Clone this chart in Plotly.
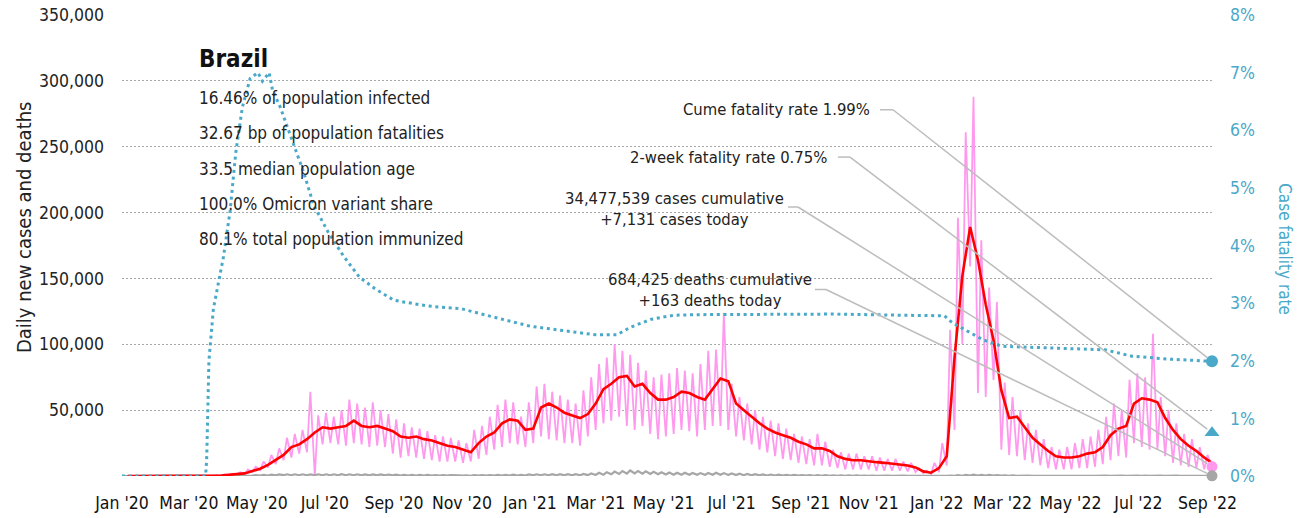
import numpy as np
import pandas as pd
import plotly.graph_objects as go

FONT = "DejaVu Sans Condensed, DejaVu Sans, sans-serif"
BLUE = "#4aa8c8"
PINK = "#ff99ee"
RED = "#ff0000"
GRAY = "#a6a6a6"
LEADER = "#bdbdbd"

# ---- weekly grid: week k starts on 2020-01-01 + 7k (140 weeks) ----
week_start = pd.date_range("2020-01-01", periods=140, freq="7D")

# 7-day average of new cases, thousands (one value per week, Monday)
cases_avg_2020 = [0, 0, 0, 0, 0, 0, 0, 0, 0, 0.003, 0.03, 0.2, 0.4, 0.9, 1.3, 2.0, 3.8,
                  5.5, 8.5, 12, 16, 22, 24, 28, 33, 37, 36, 37, 38, 42, 38, 37, 38, 36,
                  34, 30, 29, 30, 28, 27, 25, 23, 22, 20, 18, 25, 30, 33, 40, 43, 42, 35]
cases_avg_2021 = [36, 52, 55, 52, 48, 46, 44, 47, 55, 66, 70, 75, 76, 68, 70, 63, 58, 58,
                  60, 64, 63, 60, 58, 66, 74, 72, 55, 50, 45, 40, 36, 33, 31, 29, 26, 24,
                  21, 21, 19, 15, 13, 12, 12, 11, 10.5, 10, 9.5, 9, 8, 6.5, 3.5, 2.5]
cases_avg_2022 = [6, 15, 90, 152, 189, 164, 130, 103, 65, 44, 45, 37, 29, 24, 19, 15, 14,
                  14, 15, 17, 18, 22, 31, 36, 38, 55, 59, 58, 56, 44, 35, 28, 23, 19, 14, 10]

# weekly high (Thursday) and low (Monday) of daily new cases, thousands
cases_hi_2020 = [0, 0, 0, 0, 0, 0, 0, 0, 0, 0.005, 0.06, 0.3, 0.6, 1.2, 1.8, 2.8, 5, 7,
                 11, 16, 21, 29, 32, 35, 64, 46, 48, 45, 50, 58, 55, 52, 56, 50, 47, 43,
                 40, 37, 36, 34, 31, 30, 29, 27, 25, 35, 38, 45, 54, 58, 56, 45]
cases_lo_2020 = [0, 0, 0, 0, 0, 0, 0, 0, 0, 0, 0.03, 0.2, 0.3, 0.8, 1.1, 1.5, 3, 4.5,
                 6.5, 9, 12, 14, 17, 18, 0, 24, 25, 24, 23, 25, 24, 22, 23, 22, 17, 14,
                 15, 14, 13, 12, 11, 11, 11, 10, 11, 13, 16, 20, 22, 25, 24, 22]
cases_hi_2021 = [56, 68, 70, 64, 61, 58, 55, 65, 75, 85, 90, 100, 95, 92, 86, 80, 75, 77,
                 78, 82, 80, 78, 85, 95, 96, 124, 70, 60, 55, 50, 45, 42, 40, 36, 32, 30,
                 28, 32, 26, 20, 18, 17, 17, 15, 15, 14, 13, 13, 11, 10, 6, 4]
cases_lo_2021 = [25, 30, 28, 27, 25, 25, 23, 30, 35, 40, 42, 45, 38, 35, 38, 32, 28, 30,
                 32, 35, 34, 30, 35, 38, 38, 35, 30, 27, 24, 20, 18, 15, 13, 12, 10, 9,
                 8, 8, 7, 6, 5, 5, 5, 5, 4, 4, 4, 4, 3.5, 3, 2, 1.5]
cases_hi_2022 = [10, 25, 111, 196, 261, 288, 179, 143, 132, 71, 60, 50, 40, 35, 28, 22,
                 20, 22, 25, 28, 30, 35, 45, 55, 50, 73, 78, 75, 108, 60, 50, 40, 32, 28,
                 22, 16]
cases_lo_2022 = [3, 8, 35, 100, 159, 63, 60, 73, 20, 16, 15, 12, 10, 8, 6, 5, 5, 5, 6, 6,
                 7, 9, 12, 15, 14, 25, 22, 20, 20, 15, 10, 8, 7, 6, 5, 7.131]

# weekly high and low of daily deaths
deaths_hi_2020 = [0] * 10 + [5, 15, 50, 120, 200, 250, 450, 600, 800, 1000, 1150, 1300,
                             1300, 1300, 1250, 1300, 1300, 1300, 1350, 1300, 1300, 1250,
                             1200, 1150, 1100, 1000, 950, 900, 850, 800, 700, 650, 600,
                             550, 500, 700, 700, 750, 900, 950, 1000, 900]
deaths_lo_2020 = [0] * 10 + [2, 8, 25, 70, 100, 150, 250, 300, 400, 500, 600, 600, 600,
                             600, 600, 600, 600, 600, 600, 550, 550, 550, 500, 480, 450,
                             400, 400, 380, 350, 350, 300, 280, 250, 230, 200, 250, 300,
                             300, 350, 400, 400, 350]
deaths_hi_2021 = [1200, 1300, 1300, 1350, 1350, 1350, 1400, 1500, 1900, 2400, 2900, 3300,
                  3800, 4200, 3800, 3500, 3200, 2800, 2600, 2500, 2400, 2300, 2200, 2300,
                  2400, 2200, 1900, 1700, 1500, 1400, 1200, 1100, 1000, 900, 800, 700,
                  650, 650, 600, 550, 500, 450, 420, 380, 350, 300, 280, 250, 230, 200,
                  150, 120]
deaths_lo_2021 = [500, 550, 550, 550, 550, 550, 550, 650, 800, 1000, 1300, 1500, 1800,
                  1900, 1700, 1500, 1300, 1100, 1000, 1000, 900, 900, 850, 900, 900, 800,
                  700, 600, 500, 450, 400, 350, 350, 300, 250, 250, 200, 200, 180, 150,
                  130, 120, 110, 100, 90, 80, 70, 60, 60, 50, 40, 30]
deaths_hi_2022 = [150, 200, 350, 600, 800, 1000, 950, 850, 700, 550, 450, 350, 300, 250,
                  180, 150, 130, 130, 130, 140, 150, 180, 220, 250, 280, 330, 350, 350,
                  330, 300, 280, 250, 220, 180, 150, 120]
deaths_lo_2022 = [40, 50, 100, 200, 300, 400, 400, 350, 250, 200, 150, 120, 100, 80, 60,
                  50, 40, 40, 40, 40, 45, 50, 60, 70, 80, 100, 100, 100, 100, 90, 80, 70,
                  60, 50, 40, 163]

# cumulative case fatality rate, %
cfr_dates = ["2020-01-01", "2020-03-16", "2020-03-17", "2020-03-19", "2020-03-23",
             "2020-03-27", "2020-04-01", "2020-04-07", "2020-04-12", "2020-04-18",
             "2020-04-25", "2020-05-02", "2020-05-06", "2020-05-12", "2020-05-15",
             "2020-05-22", "2020-06-01", "2020-06-12", "2020-06-21", "2020-07-04",
             "2020-07-18", "2020-08-01", "2020-08-15", "2020-09-01", "2020-10-01",
             "2020-11-01", "2020-12-01", "2021-01-01", "2021-02-01", "2021-03-01",
             "2021-03-20", "2021-04-01", "2021-04-20", "2021-05-10", "2021-06-01",
             "2021-08-01", "2021-10-01", "2021-12-01", "2022-01-08", "2022-01-15",
             "2022-01-30", "2022-02-12", "2022-03-01", "2022-04-01", "2022-05-01",
             "2022-06-01", "2022-06-25", "2022-07-27", "2022-09-05"]
cfr_pct = [0, 0, 0.3, 2.0, 2.9, 3.3, 3.8, 4.6, 5.6, 6.4, 6.9, 7.0, 6.85, 7.0, 6.7, 6.4,
           5.85, 5.27, 4.7, 4.23, 3.81, 3.45, 3.25, 3.05, 2.95, 2.9, 2.75, 2.6, 2.52,
           2.45, 2.45, 2.58, 2.72, 2.79, 2.8, 2.81, 2.81, 2.79, 2.78, 2.66, 2.5, 2.36,
           2.25, 2.23, 2.21, 2.19, 2.08, 2.03, 1.99]

# latest-day figures
last_day = "2022-09-05"
cume_cfr = 1.99
two_week_cfr = 0.75
cases_today = 7131
deaths_today = 163
cases_cumulative = 34477539
deaths_cumulative = 684425

stats = ["16.46% of population infected",
         "32.67 bp of population fatalities",
         "33.5 median population age",
         "100.0% Omicron variant share",
         "80.1% total population immunized"]

# ---- assemble series ----
cases_avg = np.array(cases_avg_2020 + cases_avg_2021 + cases_avg_2022) * 1000
cases_hi = np.array(cases_hi_2020 + cases_hi_2021 + cases_hi_2022) * 1000
cases_lo = np.array(cases_lo_2020 + cases_lo_2021 + cases_lo_2022) * 1000
deaths_hi = np.array(deaths_hi_2020 + deaths_hi_2021 + deaths_hi_2022)
deaths_lo = np.array(deaths_lo_2020 + deaths_lo_2021 + deaths_lo_2022)

hi_days = week_start + pd.Timedelta(days=1)
lo_days = week_start + pd.Timedelta(days=5)
avg_days = week_start + pd.Timedelta(days=5)


def zigzag(hi, lo):
    xs, ys = [], []
    for k in range(len(week_start)):
        xs += [hi_days[k], lo_days[k]]
        ys += [hi[k], lo[k]]
    return xs, ys


daily_x, daily_cases = zigzag(cases_hi, cases_lo)
_, daily_deaths = zigzag(deaths_hi, deaths_lo)

fig = go.Figure()
fig.add_trace(go.Scatter(x=daily_x, y=daily_cases, mode="lines",
                         line=dict(color=PINK, width=1.8), hoverinfo="skip"))
fig.add_trace(go.Scatter(x=daily_x, y=daily_deaths, mode="lines",
                         line=dict(color=GRAY, width=2.2), hoverinfo="skip"))
fig.add_trace(go.Scatter(x=avg_days, y=cases_avg, mode="lines",
                         line=dict(color=RED, width=2.6), hoverinfo="skip"))
fig.add_trace(go.Scatter(x=pd.to_datetime(cfr_dates), y=cfr_pct, yaxis="y2", mode="lines",
                         line=dict(color=BLUE, width=3, dash="3px,3.7px"), hoverinfo="skip"))

# end-of-series markers
fig.add_trace(go.Scatter(x=[last_day], y=[cases_today], mode="markers", cliponaxis=False,
                         marker=dict(color=PINK, size=11)))
fig.add_trace(go.Scatter(x=[last_day], y=[deaths_today], mode="markers", cliponaxis=False,
                         marker=dict(color=GRAY, size=11)))
fig.add_trace(go.Scatter(x=[last_day], y=[cume_cfr], yaxis="y2", mode="markers",
                         cliponaxis=False, marker=dict(color=BLUE, size=12)))
fig.add_trace(go.Scatter(x=[last_day], y=[two_week_cfr], yaxis="y2", mode="markers",
                         cliponaxis=False,
                         marker=dict(color=BLUE, size=13, symbol="triangle-up")))

# ---- leader lines (pixel offsets from each end marker) ----
shapes = []


def leader(yval, yref, start, bend, gap):
    bx, by = bend
    L = np.hypot(bx, by)
    ex, ey = bx * gap / L, by * gap / L
    common = dict(type="line", xref="x", yref=yref, xsizemode="pixel", ysizemode="pixel",
                  xanchor=last_day, yanchor=yval, layer="above",
                  line=dict(color=LEADER, width=1.5))
    shapes.append(dict(x0=start[0], y0=start[1], x1=bx, y1=by, **common))
    shapes.append(dict(x0=bx, y0=by, x1=ex, y1=ey, **common))


leader(cume_cfr, "y2", (-332, 251.6), (-319, 251.6), 6)
leader(two_week_cfr, "y2", (-374, 275.7), (-362, 275.7), 6)
leader(cases_today, "y", (-424, 259.6), (-414, 259.6), 5.5)
leader(deaths_today, "y", (-397, 186.3), (-386, 186.3), 5.5)

annotations = []


def label(text, yval, yref, dx, dy, xanchor):
    annotations.append(dict(text=text, x=last_day, y=yval, xref="x", yref=yref,
                            xshift=dx, yshift=dy, xanchor=xanchor, yanchor="middle",
                            align="center", showarrow=False,
                            font=dict(size=16.5, color="#222")))


label(f"Cume fatality rate {cume_cfr:.2f}%", cume_cfr, "y2", -340, 251.6, "right")
label(f"2-week fatality rate {two_week_cfr:.2f}%", two_week_cfr, "y2", -383, 275.7, "right")
label(f"{cases_cumulative:,} cases cumulative<br>+{cases_today:,} cases today",
      cases_today, "y", -538, 257.6, "center")
label(f"{deaths_cumulative:,} deaths cumulative<br>+{deaths_today:,} deaths today",
      deaths_today, "y", -502, 185.8, "center")

# title block
annotations.append(dict(text="<b>Brazil</b>", xref="paper", yref="paper", x=0.0688,
                        y=0.905, xanchor="left", yanchor="middle", showarrow=False,
                        font=dict(size=24, color="#111")))
for i, s in enumerate(stats):
    annotations.append(dict(text=s, xref="paper", yref="paper", x=0.0688,
                            y=0.820 - i * 0.0765, xanchor="left", yanchor="middle",
                            showarrow=False, font=dict(size=17, color="#222")))

# axis titles
annotations.append(dict(text="Daily new cases and deaths", xref="paper", yref="paper",
                        x=-0.0899, y=0.54, textangle=-90, showarrow=False,
                        xanchor="center", yanchor="middle",
                        font=dict(size=20, color="#222")))
annotations.append(dict(text="Case fatality rate", xref="paper", yref="paper",
                        x=1.067, y=0.492, textangle=90, showarrow=False,
                        xanchor="center", yanchor="middle",
                        font=dict(size=17, color=BLUE)))

fig.update_layout(
    width=1315, height=518,
    margin=dict(l=122, r=103, t=15, b=42),
    paper_bgcolor="white", plot_bgcolor="white",
    showlegend=False,
    font=dict(family=FONT, size=17, color="#222"),
    xaxis=dict(type="date", range=["2020-01-01", last_day], tick0="2020-01-01",
               dtick="M2", tickformat="%b '%y", tickangle=0, showgrid=False,
               zeroline=False, showline=False, ticks="", ticklabelstandoff=14,
               automargin=False, tickfont=dict(size=17.5, color="#111")),
    yaxis=dict(range=[0, 350000], tickvals=list(range(50000, 350001, 50000)),
               tickformat=",", showgrid=True, gridcolor="#a8a8a8", gridwidth=1,
               griddash="1.5px,2.5px", zeroline=False, showline=False, ticks="",
               ticklabelstandoff=17, automargin=False,
               tickfont=dict(size=17.5, color="#222")),
    yaxis2=dict(overlaying="y", side="right", range=[0, 8], dtick=1, ticksuffix="%",
                showgrid=False, zeroline=False, showline=False, ticks="",
                ticklabelstandoff=17, automargin=False,
                tickfont=dict(size=17.5, color=BLUE)),
    shapes=shapes,
    annotations=annotations,
)

fig.write_html("out.html")
